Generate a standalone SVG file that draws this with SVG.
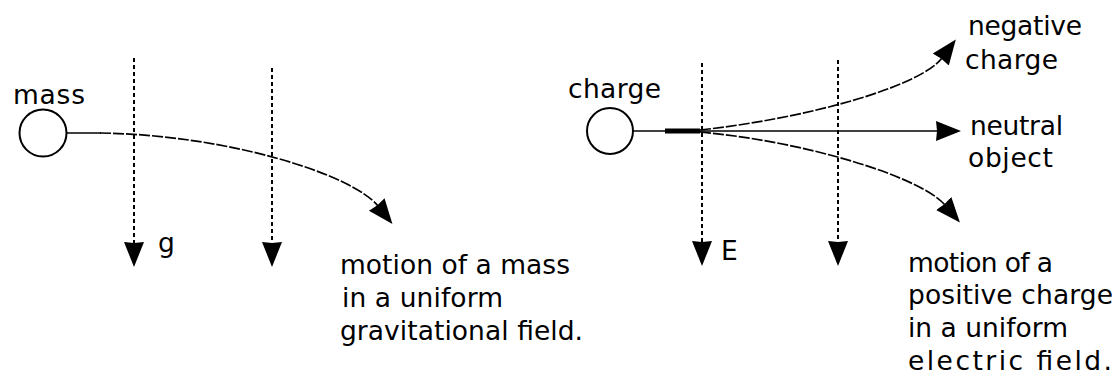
<svg xmlns="http://www.w3.org/2000/svg" width="1116" height="380" viewBox="0 0 1116 380">
<style>
  .bg { fill: #ffffff; }
  .ball { fill: #ffffff; stroke: #000000; stroke-width: 2; }
  .field { fill: none; stroke: #000000; stroke-width: 2; stroke-dasharray: 4 3; }
  .path { fill: none; stroke: #000000; stroke-width: 1.7; }
  .traj { fill: none; stroke: #000000; stroke-width: 1.7; stroke-dasharray: 11 2; }
  .thick { fill: none; stroke: #000000; stroke-width: 5; }
  text { font-family: "DejaVu Sans", "Liberation Sans", sans-serif; font-size: 26.5px; fill: #000000; }
</style>
<defs>
  <marker id="head" viewBox="0 -11 26 22" refX="2" refY="0" markerWidth="26" markerHeight="22" markerUnits="userSpaceOnUse" orient="auto">
    <path d="M25,0 L0,-10 L1,0 L0,10 Z" fill="#000000"/>
  </marker>
</defs>
<rect class="bg" x="0" y="0" width="1116" height="380"/>

<g id="connectors">
  <!-- gravitational field lines -->
  <line class="field" x1="134" y1="58" x2="134" y2="244" marker-end="url(#head)"/>
  <line class="field" x1="272" y1="68" x2="272" y2="244" marker-end="url(#head)"/>
  <!-- electric field lines -->
  <line class="field" x1="702" y1="63" x2="702" y2="243" marker-end="url(#head)"/>
  <line class="field" x1="838" y1="60" x2="838" y2="243" marker-end="url(#head)"/>
  <!-- mass trajectory -->
  <line class="path" x1="67" y1="133" x2="101" y2="133"/>
  <path class="traj" d="M100,133 C230,135 353,175 378,206" marker-end="url(#head)"/>
  <!-- charge trajectories -->
  <line class="path" x1="633" y1="131" x2="938" y2="131" marker-end="url(#head)"/>
  <line class="thick" x1="665" y1="131" x2="700" y2="131"/>
  <path class="traj" d="M700,130 C810,118 921,86 942,58" marker-end="url(#head)"/>
  <path class="traj" d="M700,132 C810,142 922,178 945,205" marker-end="url(#head)"/>
</g>

<g id="mass">
  <circle class="ball" cx="43" cy="133" r="23.5"/>
  <text x="13" y="104" textLength="72" lengthAdjust="spacing">mass</text>
</g>
<g id="label-g">
  <text x="158" y="252">g</text>
</g>
<g id="mass-caption">
  <text x="340" y="274" textLength="230" lengthAdjust="spacing">motion of a mass</text>
  <text x="342" y="307" textLength="161" lengthAdjust="spacing">in a uniform</text>
  <text x="340" y="340" textLength="243" lengthAdjust="spacing">gravitational field.</text>
</g>

<g id="charge">
  <circle class="ball" cx="610" cy="131" r="23"/>
  <text x="568" y="98" textLength="93" lengthAdjust="spacing">charge</text>
</g>
<g id="label-E">
  <text x="721" y="260">E</text>
</g>
<g id="negative-charge">
  <text x="968" y="35" textLength="114" lengthAdjust="spacing">negative</text>
  <text x="965" y="69" textLength="93" lengthAdjust="spacing">charge</text>
</g>
<g id="neutral-object">
  <text x="970" y="135" textLength="93" lengthAdjust="spacing">neutral</text>
  <text x="968" y="167" textLength="85" lengthAdjust="spacing">object</text>
</g>
<g id="charge-caption">
  <text x="908" y="272" textLength="145" lengthAdjust="spacing">motion of a</text>
  <text x="908" y="304" textLength="205" lengthAdjust="spacing">positive charge</text>
  <text x="908" y="337" textLength="160" lengthAdjust="spacing">in a uniform</text>
  <text x="908" y="370" textLength="204" lengthAdjust="spacing">electric field.</text>
</g>
</svg>
